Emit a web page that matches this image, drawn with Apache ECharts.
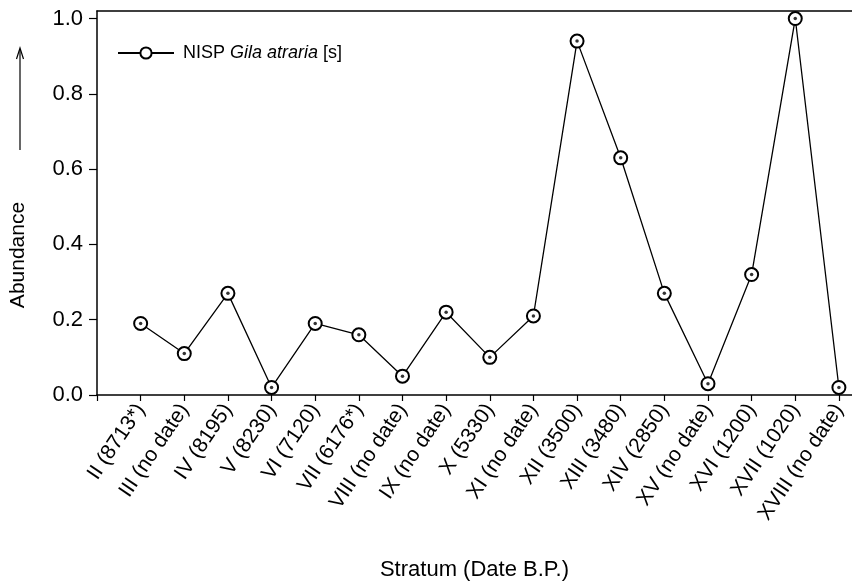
<!DOCTYPE html>
<html>
<head>
<meta charset="utf-8">
<script src="https://cdn.jsdelivr.net/npm/echarts@6/dist/echarts.min.js"></script>
<style>html,body{margin:0;padding:0;background:#fff}#c{width:852px;height:586px}</style>
</head>
<body>
<div id="c"></div>
<script>
var strata = [2, 3, 4, 5, 6, 7, 8, 9, 10, 11, 12, 13, 14, 15, 16, 17, 18];
var categories = ['II (8713*)', 'III (no date)', 'IV (8195)', 'V (8230)', 'VI (7120)', 'VII (6176*)', 'VIII (no date)', 'IX (no date)', 'X (5330)', 'XI (no date)', 'XII (3500)', 'XIII (3480)', 'XIV (2850)', 'XV (no date)', 'XVI (1200)', 'XVII (1020)', 'XVIII (no date)'];
var abundance = [0.19, 0.11, 0.27, 0.02, 0.19, 0.16, 0.05, 0.22, 0.10, 0.21, 0.94, 0.63, 0.27, 0.03, 0.32, 1.00, 0.02];
var yTicks = [0, 0.2, 0.4, 0.6, 0.8, 1.0];

var pts = strata.map(function (s, i) { return [s, abundance[i]]; });
var labelMap = {};
strata.forEach(function (s, i) { labelMap[s] = categories[i]; });

var FONT = 'Liberation Sans, Arial, sans-serif';
var chart = echarts.init(document.getElementById('c'), null, {renderer: 'canvas'});
chart.setOption({
  animation: false,
  backgroundColor: '#fff',
  textStyle: {fontFamily: FONT, color: '#000'},
  grid: {left: 97, right: 0, top: 11, bottom: 191, containLabel: false},
  legend: {
    data: ['NISP Gila atraria [s]'],
    left: 112, top: 39,
    itemWidth: 56, itemHeight: 14, itemGap: 8,
    textStyle: {fontFamily: FONT, fontSize: 18, color: '#000', padding: [0, 0, 0, 4],
      rich: {n: {fontFamily: FONT, fontSize: 18, color: '#000'},
             i: {fontFamily: FONT, fontSize: 18, fontStyle: 'italic', color: '#000'}}},
    formatter: function () { return '{n|NISP }{i|Gila atraria}{n| [s]}'; }
  },
  xAxis: [{
    type: 'value', min: 1, max: 18.3, interval: 1,
    position: 'bottom',
    name: 'Stratum (Date B.P.)', nameLocation: 'middle', nameGap: 164,
    nameTextStyle: {fontFamily: FONT, fontSize: 22, color: '#000'},
    axisLine: {show: true, lineStyle: {color: '#000', width: 1.5}},
    axisTick: {show: true, length: 6, lineStyle: {color: '#000', width: 1.2}},
    axisLabel: {
      rotate: 56, margin: 11, fontFamily: FONT, fontSize: 21, color: '#000',
      showMaxLabel: false,
      formatter: function (v) { return labelMap[v] || ''; }
    },
    splitLine: {show: false}
  }, {
    type: 'value', min: 1, max: 18.3, position: 'top',
    axisLine: {show: true, lineStyle: {color: '#000', width: 1.5}},
    axisTick: {show: false}, axisLabel: {show: false}, splitLine: {show: false}
  }],
  yAxis: {
    type: 'value', min: 0, max: 1.02, interval: 0.2,
    axisLine: {show: true, lineStyle: {color: '#000', width: 1.5}},
    axisTick: {show: true, length: 8, lineStyle: {color: '#000', width: 1.2}},
    axisLabel: {
      margin: 14, fontFamily: FONT, fontSize: 22, color: '#000', showMaxLabel: false,
      formatter: function (v) {
        for (var k = 0; k < yTicks.length; k++) { if (Math.abs(yTicks[k] - v) < 1e-6) return yTicks[k].toFixed(1); }
        return '';
      }
    },
    splitLine: {show: false}
  },
  series: [{
    name: 'NISP Gila atraria [s]',
    type: 'line', data: pts,
    symbol: 'emptyCircle', symbolSize: 13,
    lineStyle: {color: '#000', width: 1.3},
    itemStyle: {color: '#000', borderColor: '#000', borderWidth: 1.5},
    z: 2
  }, {
    name: 'dot', type: 'scatter', data: pts,
    symbol: 'circle', symbolSize: 3.5,
    itemStyle: {color: '#000'}, z: 3, silent: true
  }],
  graphic: [
    {type: 'text', x: 18, y: 255, rotation: Math.PI / 2,
     style: {text: 'Abundance', font: '21px Liberation Sans, Arial, sans-serif', fill: '#000', align: 'center', verticalAlign: 'middle'}},
    {type: 'line', shape: {x1: 20, y1: 150, x2: 20, y2: 49}, style: {stroke: '#000', lineWidth: 1.2}},
    {type: 'polyline', shape: {points: [[16.5, 59], [20, 48], [23.5, 59]]}, style: {stroke: '#000', lineWidth: 1.2, fill: null}}
  ]
});
</script>
</body>
</html>
